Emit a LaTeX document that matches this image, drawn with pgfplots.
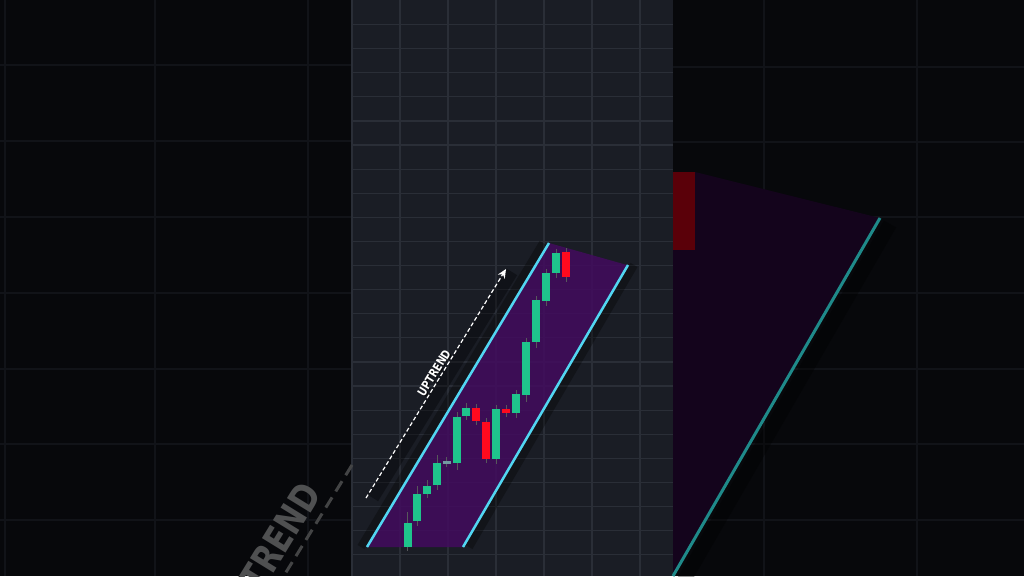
\documentclass[border=0pt]{standalone}
\usepackage{pgfplots}
\pgfplotsset{compat=1.18}
\usepackage{pgfplotstable}
\usepackage{fontspec}
\setmainfont{Liberation Sans}
\newfontfamily\cond{DejaVu Sans Condensed}
\usetikzlibrary{arrows.meta}

\definecolor{bgdark}{HTML}{07080B}
\definecolor{panel}{HTML}{1A1D25}
\definecolor{gridc}{HTML}{2A2E37}
\definecolor{gridd}{HTML}{111318}
\definecolor{bull}{HTML}{1FC48C}
\definecolor{bear}{HTML}{FF0A1E}
\definecolor{chan}{HTML}{52D6F2}
\definecolor{chanfill}{HTML}{420B5E}
\definecolor{dimfill}{HTML}{14041C}
\definecolor{dimred}{HTML}{5A0009}
\definecolor{dimteal}{HTML}{1F8A8A}

% candle bodies: x centre, top and bottom of the body (pixels, y down)
\pgfplotstableread{
x     lo   hi
407.5 523  547
417   494  521
427   486  494
437   463  485
457   417  463
466   408  416
496   409  459
516   394  413
526   342  395
536   300  342
546   273  301
556   253  273
}\bulls
\pgfplotstableread{
x     lo   hi
476   408  421
486   422  459
506   409  413
566   252  277
}\bears
\pgfplotstableread{
x     lo   hi
446.5 461  463.5
}\doji
\pgfplotstableread{
x     lo   hi
407.5 512  551
417   486  526
427   480  498
437   455  490
446.5 457  467
457   412  470
466   403  420
476   404  425
486   418  463
496   405  464
506   405  417
516   390  418
526   338  402
536   296  348
546   269  306
556   249  278
566   248  282
}\wicks
\pgfplotstableread{
x     lo   hi
684   172  250
}\dimbears

\pgfplotsset{candle/.style 2 args={draw=none, mark=none, error bars/.cd, y dir=both, y explicit,
  error mark=none, error bar style={draw=#1, line width=#2, solid}}}

\begin{document}
\begin{tikzpicture}
\begin{axis}[
  width=1024pt, height=576pt, scale only axis,
  xmin=0, xmax=1024, ymin=0, ymax=576, y dir=reverse,
  axis line style={draw=none}, tick style={draw=none},
  xticklabels={}, yticklabels={},
  xtick={352,400,448,496,544,592,640},
  ytick={24.5,48.6,...,576},
  grid=major, major grid style={gridc, line width=1.2pt},
  axis background/.style={fill=panel},
  clip=true,
]
% side panels
\addplot[fill=bgdark, draw=none] coordinates {(0,0)(351,0)(351,576)(0,576)} -- cycle;
\addplot[fill=bgdark, draw=none] coordinates {(673,0)(1024,0)(1024,576)(673,576)} -- cycle;
\addplot[gridd, line width=2.5pt, unbounded coords=jump] coordinates {
 (5,0)(5,576)(5,nan)(155,0)(155,576)(155,nan)(308,0)(308,576)(308,nan)
 (0,65)(351,65)(0,nan)(0,141)(351,141)(0,nan)(0,217)(351,217)(0,nan)
 (0,293)(351,293)(0,nan)(0,369)(351,369)(0,nan)(0,444)(351,444)(0,nan)
 (0,520)(351,520)};
\addplot[gridd, line width=2.5pt, unbounded coords=jump] coordinates {
 (764,0)(764,576)(764,nan)(917,0)(917,576)(917,nan)
 (673,67)(1024,67)(673,nan)(673,142)(1024,142)(673,nan)(673,217)(1024,217)(673,nan)
 (673,293)(1024,293)(673,nan)(673,369)(1024,369)(673,nan)(673,444)(1024,444)(673,nan)
 (673,520)(1024,520)};

% right panel: blurred close-up
\addplot[fill=dimfill, draw=none] coordinates {(673,172)(695,172)(880,218)(673,576)} -- cycle;
\addplot[candle={dimred}{22pt}] table[x=x, y expr={(\thisrow{lo}+\thisrow{hi})/2},
  y error expr={(\thisrow{hi}-\thisrow{lo})/2}] {\dimbears};
\addplot[black, opacity=0.35, line width=14pt] coordinates {(890,224)(683,582)};
\addplot[dimteal, line width=3pt] coordinates {(880,218)(673,576)};

% left panel: blurred label
\addplot[gray!50!bgdark, line width=3pt, dash pattern=on 12pt off 7pt] coordinates {(352,465)(280,582)};
\node[rotate=58.4, text=gray!60!bgdark, font=\cond\bfseries\fontsize{38}{38}\selectfont]
  at (268,557) {\scalebox{0.9}[1]{UPTREND}};

% channel
\addplot[fill=chanfill, fill opacity=0.85, draw=none] coordinates {(367,547)(549,243)(627,265)(463,547)} -- cycle;
\addplot[black, opacity=0.3, line width=8pt] coordinates {(361,547)(543,243)};
\addplot[black, opacity=0.3, line width=8pt] coordinates {(469,547)(634,265)};
\addplot[black, opacity=0.35, line width=12pt] coordinates {(373,498)(512,272)};
\addplot[chan, line width=2.5pt] coordinates {(367,547)(549,243)};
\addplot[chan, line width=2.5pt] coordinates {(463,547)(628,265)};

% candles
\addplot[candle={gray!60!panel}{0.8pt}] table[x=x, y expr={(\thisrow{lo}+\thisrow{hi})/2},
  y error expr={(\thisrow{hi}-\thisrow{lo})/2}] {\wicks};
\addplot[candle={bull}{8pt}] table[x=x, y expr={(\thisrow{lo}+\thisrow{hi})/2},
  y error expr={(\thisrow{hi}-\thisrow{lo})/2}] {\bulls};
\addplot[candle={bear}{8pt}] table[x=x, y expr={(\thisrow{lo}+\thisrow{hi})/2},
  y error expr={(\thisrow{hi}-\thisrow{lo})/2}] {\bears};
\addplot[candle={gray!70!chan}{8pt}] table[x=x, y expr={(\thisrow{lo}+\thisrow{hi})/2},
  y error expr={(\thisrow{hi}-\thisrow{lo})/2}] {\doji};

% trend arrow and label
\addplot[white, line width=1.2pt, dash pattern=on 4pt off 2.5pt, -{Stealth[length=9pt,width=8pt]}]
  coordinates {(366,498)(506,269)};
\node[rotate=58.4, text=black, opacity=0.7, font=\cond\bfseries\fontsize{12}{12}\selectfont]
  at (435.5,374) {\scalebox{0.9}[1]{UPTREND}};
\node[rotate=58.4, text=white, font=\cond\bfseries\fontsize{12}{12}\selectfont]
  at (434,373) {\scalebox{0.9}[1]{UPTREND}};
\end{axis}
\pgfresetboundingbox
\path[use as bounding box] (current axis.south west) rectangle (current axis.north east);
\end{tikzpicture}
\end{document}
